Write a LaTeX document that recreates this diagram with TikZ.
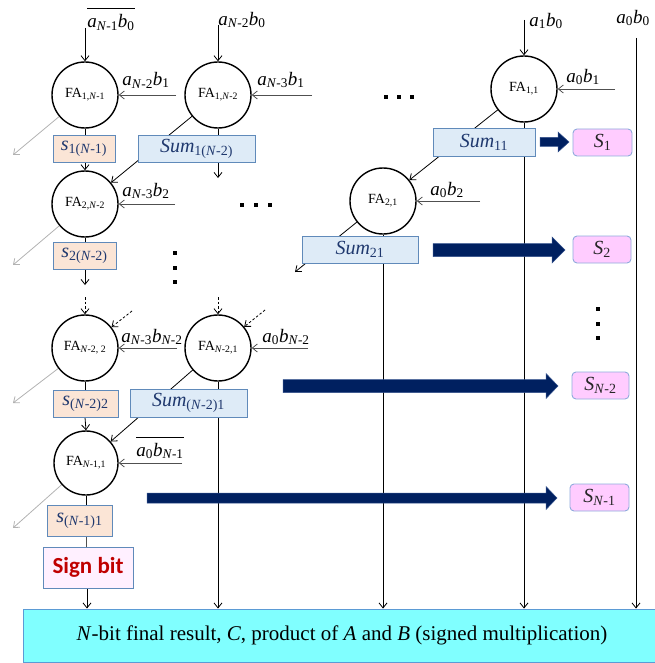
\documentclass[tikz,border=0pt]{standalone}
\usepackage{fontspec}
\setmainfont{Liberation Serif}
\newfontfamily\signfont{Carlito}
\usetikzlibrary{arrows.meta,calc}
\pgfdeclarelayer{bg}
\pgfsetlayers{bg,main}

\definecolor{bordblue}{RGB}{96,138,186}
\definecolor{sumfill}{RGB}{222,235,247}
\definecolor{sfill}{RGB}{251,229,214}
\definecolor{Sfill}{RGB}{255,204,255}
\definecolor{Sbord}{RGB}{143,170,220}
\definecolor{signfill}{RGB}{255,240,255}
\definecolor{resfill}{RGB}{128,255,255}
\definecolor{resbord}{RGB}{91,155,213}
\definecolor{navy}{RGB}{0,32,96}
\definecolor{navyedge}{RGB}{50,80,140}
\definecolor{signred}{RGB}{192,0,0}
\definecolor{txtnavy}{RGB}{31,56,110}
\definecolor{outgray}{RGB}{178,178,178}
\definecolor{linegray}{RGB}{80,80,80}

\newcommand{\vi}[1]{\textit{#1}}
\newcommand{\sbs}[1]{\textsubscript{#1}}
% x start, x end, y, shaft half, head half, head length
\newcommand{\navyarrow}[6]{%
  \filldraw[fill=navy,draw=navyedge,line width=0.5pt]
    (#1,#3-#4) -- (#2-#6,#3-#4) -- (#2-#6,#3-#5) -- (#2,#3) --
    (#2-#6,#3+#5) -- (#2-#6,#3+#4) -- (#1,#3+#4) -- cycle;}

\begin{document}
\begin{tikzpicture}[x=1pt,y=-1pt,
  fa/.style={circle,draw=black,line width=1.4pt,minimum size=66pt,inner sep=0pt,
    font=\fontsize{14}{16}\selectfont},
  boxbase/.style={draw=bordblue,line width=0.9pt,inner sep=0pt,
    font=\fontsize{20}{22}\selectfont},
  sbox/.style={boxbase,fill=sfill,text=txtnavy},
  sumbox/.style={boxbase,fill=sumfill,text=txtnavy,minimum width=117pt,minimum height=27pt},
  Sbox/.style={draw=Sbord,fill=Sfill,rounded corners=4pt,line width=0.9pt,inner sep=0pt,
    minimum width=59pt,minimum height=27pt,text=black!85,font=\fontsize{20}{22}\selectfont},
  lbl/.style={inner sep=0pt,font=\fontsize{19}{21}\selectfont},
  arr/.style={-{Straight Barb[length=5pt,width=8pt]},line width=0.8pt},
  inarr/.style={arr,draw=linegray},
  outarr/.style={arr,draw=outgray},
  dasharr/.style={arr,dash pattern=on 2.5pt off 2pt},
  dotsq/.style={fill=black}
]
\useasboundingbox (0,0) rectangle (654,663);

% ---------- full adders ----------
\node[fa] (fa1) at (85,95) {FA\sbs{1,\vi{N}-1}};
\node[fa] (fa2) at (218,95) {FA\sbs{1,\vi{N}-2}};
\node[fa] (fa3) at (524,89) {FA\sbs{1,1}};
\node[fa] (fa4) at (85,204) {FA\sbs{2,\vi{N}-2}};
\node[fa] (fa5) at (383,201) {FA\sbs{2,1}};
\node[fa] (fa6) at (85,348) {FA\sbs{\vi{N}-2, 2}};
\node[fa] (fa7) at (218,348) {FA\sbs{\vi{N}-2,1}};
\node[fa,minimum size=64pt] (fa8) at (86,463) {FA\sbs{\vi{N}-1,1}};

% ---------- sum boxes ----------
\node[sbox,minimum width=62pt,minimum height=27pt] (s1) at (84,148.5) {\vi{s}\sbs{1(\vi{N}-1)}};
\node[sumbox] (sum1) at (196.5,148.5) {\vi{Sum}\sbs{1(\vi{N}-2)}};
\node[sumbox,minimum width=102pt,minimum height=28pt] (sum11) at (484,142) {\vi{Sum}\sbs{11}};
\node[Sbox] (S1) at (602.5,142.5) {\vi{S}\sbs{1}};
\node[sbox,minimum width=63pt,minimum height=27pt] (s2) at (84.5,255.5) {\vi{s}\sbs{2(\vi{N}-2)}};
\node[sumbox,minimum width=116pt] (sum21) at (360,249.5) {\vi{Sum}\sbs{21}};
\node[Sbox,minimum width=58pt] (S2) at (602,249.5) {\vi{S}\sbs{2}};
\node[sbox,minimum width=65pt,minimum height=27pt] (s3) at (85.5,403.5) {\vi{s}\sbs{(\vi{N}-2)2}};
\node[sumbox,minimum height=28pt] (sum3) at (188.5,403) {\vi{Sum}\sbs{(\vi{N}-2)1}};
\node[Sbox,minimum width=57pt] (SN2) at (600.5,385.5) {\vi{S}\sbs{\vi{N}-2}};
\node[sbox,minimum width=65pt,minimum height=31pt] (s4) at (79.5,520.5) {\vi{s}\sbs{(\vi{N}-1)1}};
\node[Sbox] (SN1) at (599.5,497.5) {\vi{S}\sbs{\vi{N}-1}};
\node[boxbase,fill=signfill,minimum width=90pt,minimum height=41pt,text=signred,
  font=\signfont\bfseries\fontsize{23}{25}\selectfont] (sign) at (88,567.5) {Sign bit};
\node[draw=resbord,fill=resfill,line width=0.9pt,minimum width=633pt,minimum height=53pt,
  inner sep=0pt,font=\fontsize{21}{24}\selectfont] (res) at (339.5,635.5) {};
\node[inner sep=0pt,font=\fontsize{21}{24}\selectfont] (restext) at (342,635)
  {\vi{N}-bit final result, \vi{C}, product of \vi{A} and \vi{B} (signed multiplication)};

% ---------- input labels ----------
\node[lbl,anchor=base] (l1) at (111,28) {$\overline{\hbox{\rule{0pt}{18pt}\vi{a}\sbs{\vi{N}-1}\vi{b}\sbs{0}}}$};
\node[lbl] (l2) at (242,20) {\vi{a}\sbs{\vi{N}-2}\vi{b}\sbs{0}};
\node[lbl] (l3) at (546,21) {\vi{a}\sbs{1}\vi{b}\sbs{0}};
\node[lbl] (l4) at (633,18) {\vi{a}\sbs{0}\vi{b}\sbs{0}};
\node[lbl] (l5) at (146,80) {\vi{a}\sbs{\vi{N}-2}\vi{b}\sbs{1}};
\node[lbl] (l6) at (281,80) {\vi{a}\sbs{\vi{N}-3}\vi{b}\sbs{1}};
\node[lbl] (l7) at (583,77) {\vi{a}\sbs{0}\vi{b}\sbs{1}};
\node[lbl] (l8) at (146,191) {\vi{a}\sbs{\vi{N}-3}\vi{b}\sbs{2}};
\node[lbl] (l9) at (447,190) {\vi{a}\sbs{0}\vi{b}\sbs{2}};
\node[lbl] (l10) at (152,337) {\vi{a}\sbs{\vi{N}-3}\vi{b}\sbs{\vi{N}-2}};
\node[lbl] (l11) at (286,337) {\vi{a}\sbs{0}\vi{b}\sbs{\vi{N}-2}};
\node[lbl,anchor=base] (l12) at (160,456) {$\overline{\hbox{\rule{0pt}{17pt}\vi{a}\sbs{0}\vi{b}\sbs{\vi{N}-1}}}$};

% ---------- free ends ----------
\coordinate (i1) at (85,28);
\coordinate (i2) at (218,25);
\coordinate (i3) at (524,20);
\coordinate (i0) at (636,38);
\coordinate (h1) at (176,95);
\coordinate (h2) at (312,95);
\coordinate (h3) at (615,89);
\coordinate (h4) at (175,204);
\coordinate (h5) at (480,201);
\coordinate (h6) at (177,348);
\coordinate (h7) at (308,348);
\coordinate (h8) at (182,463);
\coordinate (g1) at (13,155);
\coordinate (g2) at (13,265);
\coordinate (g3) at (13,403);
\coordinate (g4) at (13,528);
\coordinate (o2) at (218,178);
\coordinate (o5) at (295,272);
\coordinate (ds) at (85,285);
\coordinate (d6) at (85,297);
\coordinate (d7) at (218,297);
\coordinate (e6) at (132,311);
\coordinate (e7) at (265,310);

% ---------- connectors ----------
\begin{pgfonlayer}{bg}
\draw[arr] (i1) -- (fa1);
\draw[arr] (i2) -- (fa2);
\draw[arr] (i3) -- (fa3);
\draw[arr] (i0) -- (i0 |- res.north);
\draw[inarr] (h1) -- (fa1);
\draw[inarr] (h2) -- (fa2);
\draw[inarr] (h3) -- (fa3);
\draw[inarr] (h4) -- (fa4);
\draw[inarr] (h5) -- (fa5);
\draw[inarr] (h6) -- (fa6);
\draw[inarr] (h7) -- (fa7);
\draw[inarr] (h8) -- (fa8);
\draw[outarr] (fa1) -- (g1);
\draw[outarr] (fa4) -- (g2);
\draw[outarr] (fa6) -- (g3);
\draw[outarr] (fa8) -- (g4);
% column 1 chain
\draw[line width=0.8pt] (fa1.south) -- (fa1.south |- s1.north);
\draw[arr] (fa1.south |- s1.south) -- (fa4.north);
\draw[line width=0.8pt] (fa4.south) -- (fa4.south |- s2.north);
\draw[arr] (fa4.south |- s2.south) -- (ds);
\draw[dasharr] (d6) -- (fa6.north);
\draw[line width=0.8pt] (fa6.south) -- (fa6.south |- s3.north);
\draw[arr] (fa6.south |- s3.south) -- (fa8.north);
\draw[line width=0.8pt] (fa8.south) -- (fa8.south |- s4.north);
\draw[line width=0.9pt,draw=linegray] (fa8.south |- s4.south) -- (fa8.south |- sign.north);
\draw[arr] (sign.south -| 87,0) -- (87,0 |- res.north);
% other columns
\draw[arr] (fa2) -- (o2);
\draw[arr] (fa2) -- (fa4);
\draw[arr] (fa3) -- (fa3 |- res.north);
\draw[arr] (fa3) -- (fa5);
\draw[arr] (fa5) -- (fa5 |- res.north);
\draw[arr] (fa5) -- (o5);
\draw[dasharr] (d7) -- (fa7.north);
\draw[dasharr] (e6) -- (fa6);
\draw[dasharr] (e7) -- (fa7);
\draw[arr] (fa7) -- (fa7 |- res.north);
\draw[arr] (fa7) -- (fa8);
\end{pgfonlayer}

% ---------- thick arrows ----------
\navyarrow{540}{569}{142}{4.5}{10}{11}
\navyarrow{433}{565}{250}{6.5}{13}{13}
\navyarrow{283}{558}{386}{6.5}{12.5}{12}
\navyarrow{147}{557}{498}{5}{11.5}{11}

% ---------- dots ----------
\foreach \x in {242,256,270} \fill[dotsq] (\x-2,203) rectangle (\x+2,207);
\foreach \x in {386,399,412} \fill[dotsq] (\x-2,95) rectangle (\x+2,99);
\foreach \y in {253,268,282} \fill[dotsq] (173,\y-2) rectangle (177,\y+2);
\foreach \y in {309,324,338} \fill[dotsq] (596,\y-2) rectangle (600,\y+2);
\end{tikzpicture}
\end{document}
